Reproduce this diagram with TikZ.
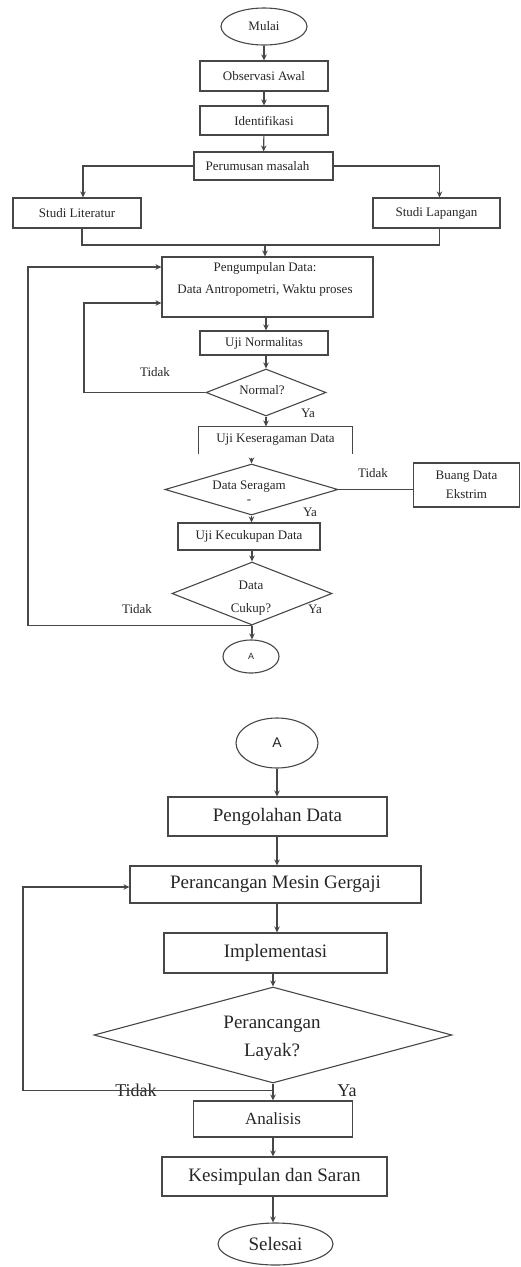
\documentclass[tikz,border=0pt]{standalone}
\usepackage{fontspec}
\setmainfont{Liberation Serif}
\newfontfamily\sansA{Liberation Sans}
\usetikzlibrary{shapes.geometric,arrows.meta,calc}
\tikzset{
  ln/.style={draw=black!72, line width=1.1pt},
  arr/.style={ln, -{Stealth[length=6pt,width=5.5pt]}},
  boxS/.style={rectangle, ln, inner sep=0pt, font=\fontsize{13}{16}\selectfont, text=black!85, align=center},
  boxL/.style={rectangle, ln, inner sep=0pt, font=\fontsize{19}{23}\selectfont, text=black!85, align=center},
  ovl/.style={ellipse, ln, inner sep=0pt},
  dia/.style={diamond, ln, inner sep=0pt},
  lblS/.style={inner sep=0pt, font=\fontsize{13}{16}\selectfont, text=black!85},
  lblL/.style={inner sep=0pt, font=\fontsize{18}{22}\selectfont, text=black!85},
}
\begin{document}
\begin{tikzpicture}[x=1pt,y=-1pt]
\useasboundingbox (0,0) rectangle (520,1267);
% ---------- upper part ----------
\node[ovl, minimum width=86, minimum height=37, font=\fontsize{13}{16}\selectfont, text=black!85] (mulai) at (264,26.5) {Mulai};
\node[boxS, minimum width=128, minimum height=30] (obs) at (264,76) {Observasi Awal};
\node[boxS, minimum width=128, minimum height=29] (ident) at (264,120.5) {Identifikasi};
\node[boxS, minimum width=139, minimum height=28] (perum) at (263.5,166) {\hspace*{-12pt}Perumusan masalah};
\node[boxS, minimum width=128, minimum height=30] (lit) at (77,213) {Studi Literatur};
\node[boxS, minimum width=127, minimum height=30] (lap) at (436.5,213) {Studi Lapangan};
\node[rectangle, ln, minimum width=211, minimum height=60, inner sep=0pt] (peng) at (267.5,287) {};
\node[lblS, font=\fontsize{13}{22}\selectfont, align=center] (pengtxt) at (265,279) {Pengumpulan Data:\\Data Antropometri, Waktu proses};
\node[boxS, minimum width=128, minimum height=24] (un) at (264,343) {Uji Normalitas};
\node[dia, minimum width=120, minimum height=47] (normal) at (266,392.5) {};
\node[lblS] (normaltxt) at (262,390) {Normal?};
\node[boxS, draw=none, minimum width=153, minimum height=26] (ujiker) at (275.5,440) {Uji Keseragaman Data};
\draw[ln] (ujiker.south west) -- (ujiker.north west) -- (ujiker.north east) -- (ujiker.south east);
\node[dia, minimum width=173, minimum height=51] (dser) at (251.5,489.5) {};
\node[lblS, font=\fontsize{13}{14}\selectfont, align=center] (dsertxt) at (249,492) {Data Seragam\\-};
\node[boxS, font=\fontsize{13}{19}\selectfont, minimum width=106, minimum height=44] (buang) at (466.5,485) {Buang Data\\Ekstrim};
\node[boxS, minimum width=142, minimum height=27] (kec) at (249,536.5) {Uji Kecukupan Data};
\node[dia, minimum width=160, minimum height=63] (cukup) at (252,593.5) {};
\node[lblS, font=\fontsize{13}{23}\selectfont, align=center] (cukuptxt) at (251,598.5) {Data\\Cukup?};
\node[ovl, minimum width=56, minimum height=33, font=\sansA\fontsize{9}{11}\selectfont, text=black!85] (A1) at (251,656.5) {A};
% labels
\node[lblS] (t1) at (155,372) {Tidak};
\node[lblS] (y1) at (308,413) {Ya};
\node[lblS] (t2) at (373,473) {Tidak};
\node[lblS] (y2) at (310,512) {Ya};
\node[lblS] (t3) at (137,609) {Tidak};
\node[lblS] (y3) at (315,609) {Ya};
% connectors
\draw[arr] (mulai) -- (obs);
\draw[arr] (obs) -- (ident);
\draw[arr] (ident) -- (perum);
\draw[arr] (perum.west) -| ([xshift=6pt]lit.north);
\draw[arr] (perum.east) -| ([xshift=3pt]lap.north);
\coordinate (J) at (265,245);
\draw[ln] ([xshift=5pt]lit.south) |- (J) -| ([xshift=3pt]lap.south);
\draw[arr] (J) -- (J |- peng.north);
\draw[arr] (normal.north |- peng.south) -- (normal.north |- un.north);
\draw[arr] (normal.north |- un.south) -- (normal.north);
\coordinate (L2) at (84,303);
\draw[arr] (normal.west) -| (L2) -- (L2 -| peng.west);
\draw[arr] (normal.south) -- (normal.south |- ujiker.north);
\draw[arr] ($(dser.north |- ujiker.south)+(0,4)$) -- (dser.north);
\draw[ln] (dser.east) -- (dser.east -| buang.west);
\draw[arr] (dser.south) -- (dser.south |- kec.north);
\draw[arr] (cukup.north |- kec.south) -- (cukup.north);
\draw[arr] (cukup.south) -- (cukup.south |- A1.north);
\coordinate (L1) at (28,267);
\draw[arr] (cukup.south) -| (L1) -- (L1 -| peng.west);
% ---------- lower part ----------
\node[ovl, minimum width=82, minimum height=50, font=\sansA\fontsize{14}{16}\selectfont, text=black!85] (A2) at (277,743) {A};
\node[boxL, minimum width=219, minimum height=39] (pgl) at (277.5,816.5) {Pengolahan Data};
\node[boxL, minimum width=291, minimum height=37] (prm) at (275.5,884.5) {Perancangan Mesin Gergaji};
\node[boxL, minimum width=223, minimum height=40] (imp) at (275.5,953) {Implementasi};
\node[dia, minimum width=358, minimum height=96] (lay) at (273,1035) {};
\node[inner sep=0pt, font=\fontsize{19}{28}\selectfont, text=black!85, align=center] (laytxt) at (272,1038) {Perancangan\\Layak?};
\node[boxL, font=\fontsize{17}{20}\selectfont, minimum width=159, minimum height=36] (ana) at (273,1119) {Analisis};
\node[boxL, minimum width=225, minimum height=39] (kes) at (274.5,1176.5) {Kesimpulan dan Saran};
\node[ovl, minimum width=115, minimum height=42, font=\fontsize{19}{23}\selectfont, text=black!85] (sel) at (275.5,1244) {Selesai};
\node[lblL] (t4) at (136,1090) {Tidak};
\node[lblL] (y4) at (347,1091) {Ya};
\draw[arr] (A2.south) -- (A2.south |- pgl.north);
\draw[arr] (A2.south |- pgl.south) -- (A2.south |- prm.north);
\draw[arr] (A2.south |- prm.south) -- (A2.south |- imp.north);
\draw[arr] (lay.north |- imp.south) -- (lay.north);
\draw[arr] (lay.south) -- (lay.south |- ana.north);
\draw[arr] (ana.south) -- (ana.south |- kes.north);
\draw[arr] (ana.south |- kes.south) -- (ana.south |- sel.north);
\coordinate (B3) at ($(lay.south)+(0,7)$);
\coordinate (L3) at (23,887);
\draw[arr] (B3) -| (L3) -- (L3 -| prm.west);
\end{tikzpicture}
\end{document}
